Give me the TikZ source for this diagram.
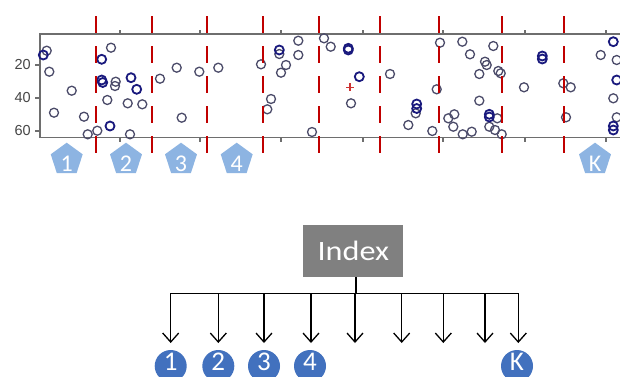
\documentclass[tikz,border=0pt]{standalone}
\usepackage{fontspec}
\setmainfont{Carlito}
\newfontfamily\axisfont{Liberation Sans}
\usetikzlibrary{shapes.geometric,arrows.meta}

\definecolor{ptgray}{RGB}{75,75,105}
\definecolor{ptnavy}{RGB}{25,25,125}
\definecolor{cutred}{RGB}{192,0,0}
\definecolor{framegray}{RGB}{110,110,110}
\definecolor{labgray}{RGB}{70,70,70}
\definecolor{pentblue}{RGB}{141,180,226}
\definecolor{leafblue}{RGB}{66,113,190}
\definecolor{boxgray}{RGB}{128,128,128}

\tikzset{
  frameline/.style={draw=framegray,line width=1.5pt},
  ylab/.style={font=\axisfont\fontsize{14.5}{14.5}\selectfont,text=labgray,inner sep=0pt},
  pt/.style={draw=ptgray,line width=1.3pt},
  ptb/.style={draw=ptnavy,line width=1.8pt},
  cutline/.style={draw=cutred,line width=2.5pt,dash pattern=on 17pt off 13pt},
  pent/.style={regular polygon,regular polygon sides=5,minimum size=33.6pt,
    inner sep=0pt,fill=pentblue,draw=none},
  pentnum/.style={text=white,font=\fontsize{24}{24}\selectfont,inner sep=0pt},
  indexbox/.style={fill=boxgray,text=white,minimum width=100pt,minimum height=52pt,
    inner sep=0pt,font=\fontsize{28}{28}\selectfont},
  wire/.style={draw=black,line width=1.3pt},
  drop/.style={wire,-{Straight Barb[length=9pt,width=16pt,line width=1.3pt]}},
  leaf/.style={circle,fill=leafblue,text=white,minimum size=32pt,inner sep=0pt,
    font=\fontsize{27}{27}\selectfont,text depth=8pt}
}

\begin{document}
\begin{tikzpicture}[x=1pt,y=-1pt]
\useasboundingbox (0,0) rectangle (620,376);
\clip (0,0) rectangle (620,376);
\fill[white] (0,0) rectangle (620,376);

% plot frame and ticks
\draw[frameline] (621,34) -- (40,34) -- (40,137.7) -- (621,137.7);
\foreach \x in {120,200,281,363,443,525,606} {
  \draw[frameline] (\x,34) -- (\x,30);
  \draw[frameline] (\x,137.7) -- (\x,141.7);
}
\foreach \y/\t in {65/20,98/40,131/60} {
  \draw[frameline] (40,\y) -- (35,\y);
  \node[ylab,anchor=east] (yl\t) at (31,\y) {\t};
}

% scatter points
\foreach \x/\y in {46.7/50.7, 49.3/71.7, 71.7/90.7, 54/112.7, 84/116.7, 87.7/134.3,
  97.3/130.7, 111/47.7, 115.7/81.7, 115/86, 107.3/100, 127.7/103.3, 142.3/104.3,
  130/134.3, 160/78.7, 176.7/67.7, 181.7/117.7, 199.3/71.7, 218.3/67.7, 261/64.3,
  271/99, 267.3/109.3, 281/72.7, 286/65, 298.3/40.7, 298.3/55, 312/132, 324/38.3,
  330.7/46.7, 351/103.3, 390/74, 408.3/125, 432.3/131, 436.7/89.3, 440/42.7,
  462.3/41.7, 493.3/46, 470/54.3, 485/61.7, 486.7/65, 479.3/74, 498.3/71,
  500.7/73.3, 479.3/100.7, 448.3/118.3, 454.3/114.3, 453.3/126.7, 462.7/134.3,
  471.7/131.7, 497.3/118.3, 489.3/126.7, 495/130, 501.7/134.3, 524/87.3,
  563.3/83.3, 570.7/87.3, 566/117.3, 600.7/55, 616.7/60, 613.3/98.3, 616.7/117.3,
  415.7/113.3, 279.3/54}
  \draw[pt] (\x,\y) circle[radius=4.5];
\foreach \x/\y in {43.3/55, 101.7/59.3, 101.7/80, 102.7/82.5, 131/77.7, 136.7/89.3,
  110/126, 279.3/50, 348.3/48.3, 348.3/50, 359.3/76.7, 416.7/104, 416.7/108.5,
  489.3/114.3, 489.3/117, 542.3/56, 542.3/59, 613.3/41.7, 616.7/80, 613.3/126,
  613.3/130}
  \draw[ptb] (\x,\y) circle[radius=4.5];

% centroid marker
\draw[draw=cutred!80,line width=1.2pt] (346,87.3) -- (354,87.3) (350,83.3) -- (350,91.3);

% segment boundaries
\foreach \x in {96,152,207,263,319,380,439,502,564}
  \draw[cutline] (\x,16) -- (\x,153);

% segment labels
\foreach \n/\x/\t in {p1/66.7/1, p2/126/2, p3/181/3, p4/236.7/4, pk/595/K} {
  \node[pent] (\n) at (\x,159.5) {};
  \node[pentnum] (\n t) at ([yshift=-4.5pt]\n.center) {\t};
}

% index tree
\node[indexbox] (index) at (353.3,251) {\scalebox{1.15}[1]{Index}};
\coordinate (bus) at (356,293.3);
\foreach \i/\x in {1/170.7,2/218.3,3/264,4/311,5/355,6/401.7,7/443.3,8/485,9/518.3}
  \coordinate (e\i) at (\x,343);
\draw[wire] (bus |- index.south) -- (bus);
\draw[wire] (e1 |- bus) -- (e9 |- bus);
\foreach \i in {1,...,9}
  \draw[drop] (e\i |- bus) -- (e\i);

\node[leaf] (c1) at (170.7,366) {1};
\node[leaf] (c2) at (218.3,366) {2};
\node[leaf] (c3) at (264,366) {3};
\node[leaf] (c4) at (310,366) {4};
\node[leaf] (ck) at (517,366) {K};
\end{tikzpicture}
\end{document}
